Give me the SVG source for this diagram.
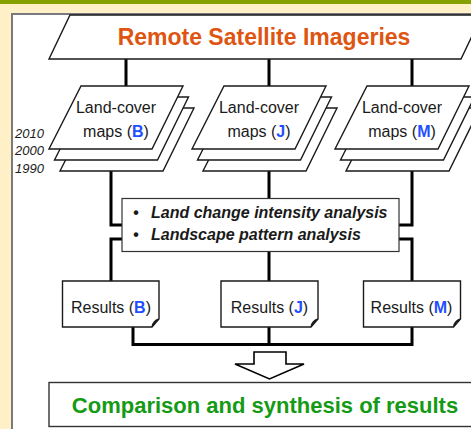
<svg xmlns="http://www.w3.org/2000/svg" width="471" height="429" viewBox="0 0 471 429">
<defs>
<style>
text{font-family:"Liberation Sans",Arial,sans-serif;fill:#1a1a1a}
.shape{fill:#fff;stroke:#1a1a1a;stroke-width:1.4}
.conn{fill:none;stroke:#000;stroke-width:3}
.lc{font-size:16px;text-anchor:middle}
.b{font-weight:bold;fill:#1f4fff}
.yr{font-size:13px;font-style:italic}
.an{font-size:16px;font-weight:bold;font-style:italic}
</style>
<g id="lcstack">
<path class="shape" d="M92,108 H194 L163,171 H60 Z"/>
<path class="shape" d="M86.5,97 H188.5 L157.5,160 H54.5 Z"/>
<path class="shape" d="M81,86 H183 L152,149 H49 Z"/>
</g>
</defs>
<rect x="0" y="0" width="471" height="429" fill="#fff0c8"/>
<rect x="0" y="0" width="471" height="4" fill="#86a000"/>
<rect x="12" y="14" width="470" height="430" fill="#fff" stroke="#7a7a7a" stroke-width="2"/>

<g id="connectors">
<path class="conn" d="M126,59 V86 M269,59 V86 M412,59 V86"/>
<path class="conn" d="M111,171 V225 H122 M122,239 H111 V281"/>
<path class="conn" d="M269,171 V198 M269,252 V281"/>
<path class="conn" d="M412,171 V225 H399 M399,239 H412 V281"/>
<path class="conn" d="M133,327 V344.5 H412 V327 M269,327 V344.5"/>
<path d="M254,352 H286 V364 H304 L269.5,379 L235,364 H254 Z" fill="#fff" stroke="#000" stroke-width="1.6"/>
</g>

<g id="remote">
<path class="shape" d="M70,15 H482 L461,59 H49 Z"/>
<text x="264" y="45" font-size="23" font-weight="bold" text-anchor="middle" style="fill:#de5511">Remote Satellite Imageries</text>
</g>

<g id="years">
<text class="yr" x="15" y="138">2010</text>
<text class="yr" x="15" y="155">2000</text>
<text class="yr" x="15" y="173">1990</text>
</g>

<g id="lc-b">
<use href="#lcstack"/>
<text class="lc" x="116" y="113">Land-cover</text>
<text class="lc" x="116" y="137">maps (<tspan class="b">B</tspan>)</text>
</g>
<g id="lc-j">
<use href="#lcstack" x="143"/>
<text class="lc" x="259" y="113">Land-cover</text>
<text class="lc" x="259" y="137">maps (<tspan class="b">J</tspan>)</text>
</g>
<g id="lc-m">
<use href="#lcstack" x="286"/>
<text class="lc" x="402" y="113">Land-cover</text>
<text class="lc" x="402" y="137">maps (<tspan class="b">M</tspan>)</text>
</g>

<g id="analysis">
<rect x="122" y="198.5" width="277" height="53" fill="#fff" stroke="#333" stroke-width="1.2"/>
<text class="an" x="133" y="218">•</text>
<text class="an" x="151" y="218">Land change intensity analysis</text>
<text class="an" x="133" y="240">•</text>
<text class="an" x="151" y="240">Landscape pattern analysis</text>
</g>

<g id="res-b">
<path class="shape" d="M62.5,281 H159 V319 L152,327 H62.5 Z M152,327 Q153,321 159,319"/>
<text class="lc" x="111" y="313">Results (<tspan class="b">B</tspan>)</text>
</g>
<g id="res-j">
<path class="shape" d="M221,281 H318 V319 L311,327 H221 Z M311,327 Q312,321 318,319"/>
<text class="lc" x="269.5" y="313">Results (<tspan class="b">J</tspan>)</text>
</g>
<g id="res-m">
<path class="shape" d="M363.5,281 H460.5 V319 L453.5,327 H363.5 Z M453.5,327 Q454.5,321 460.5,319"/>
<text class="lc" x="411.5" y="313">Results (<tspan class="b">M</tspan>)</text>
</g>

<g id="comparison">
<rect x="49" y="382.5" width="440" height="44" fill="#fff" stroke="#333" stroke-width="1.4"/>
<text x="265" y="413" font-size="22" font-weight="bold" text-anchor="middle" style="fill:#159a15">Comparison and synthesis of results</text>
</g>
</svg>
